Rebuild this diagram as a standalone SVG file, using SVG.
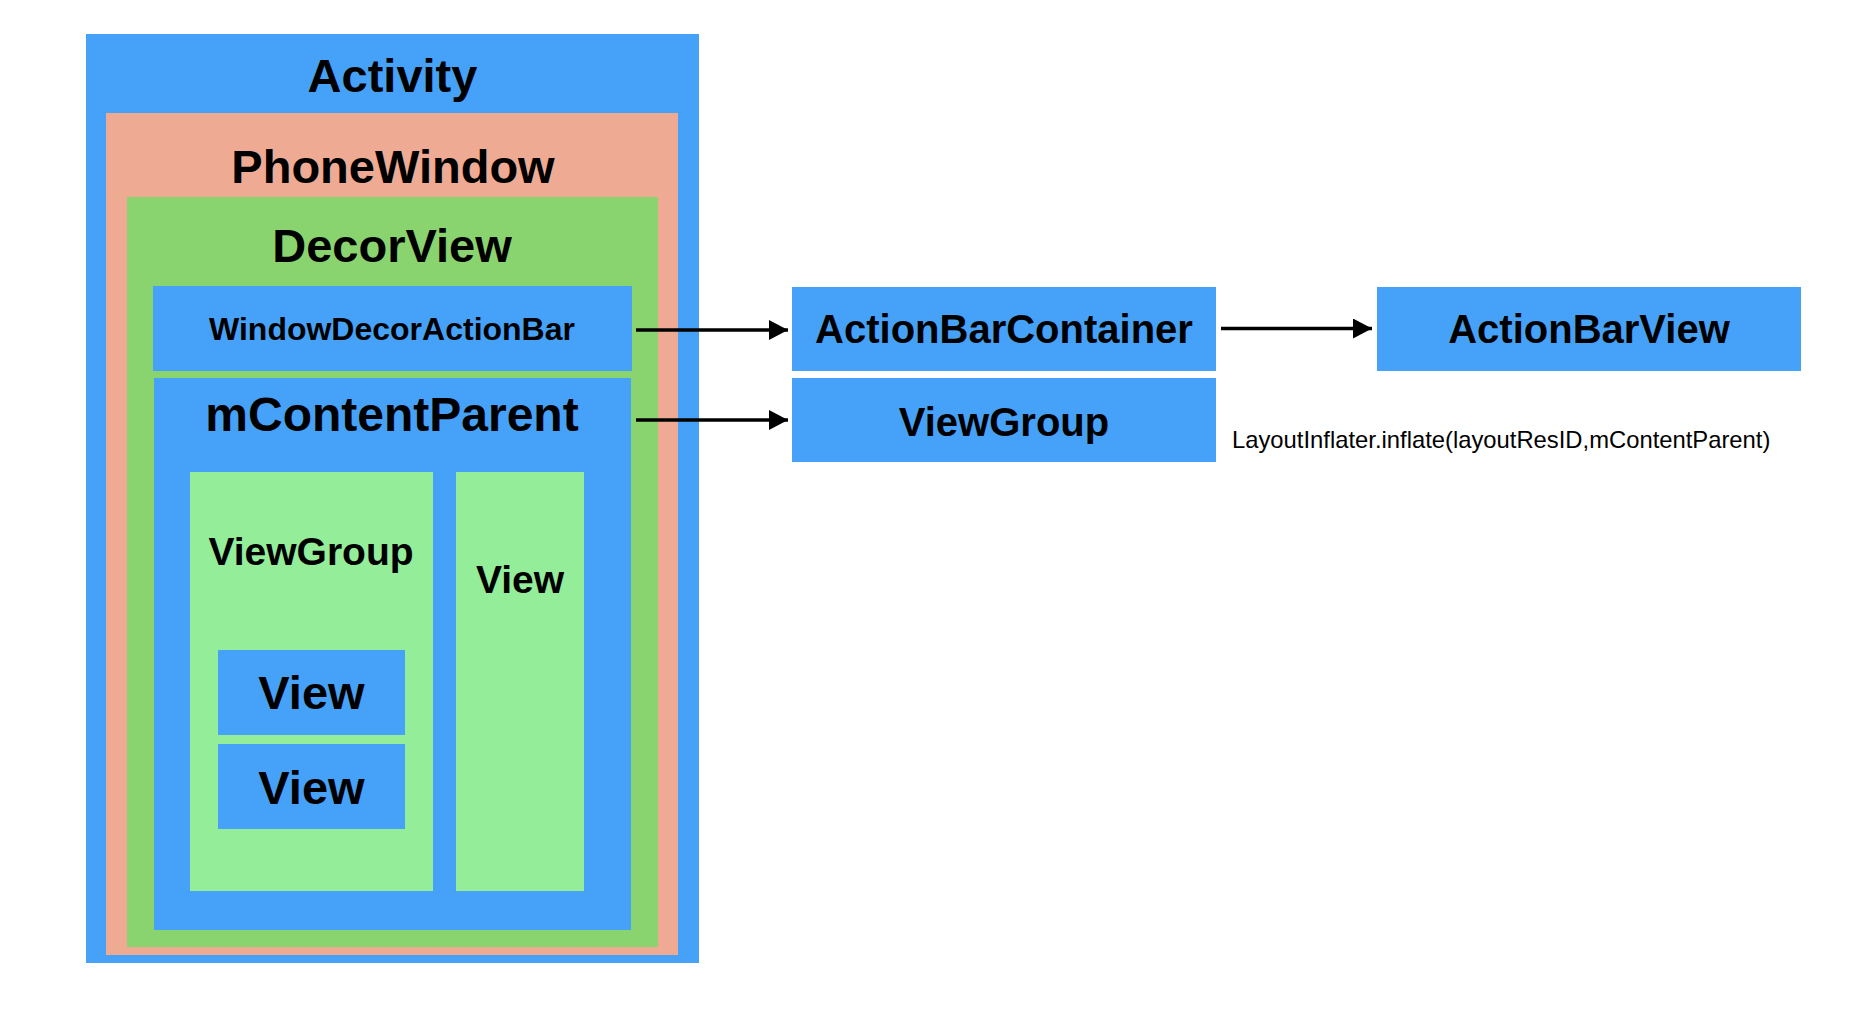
<svg xmlns="http://www.w3.org/2000/svg" width="1874" height="1020" viewBox="0 0 1874 1020">
<style>
.blue{fill:#46A2F8}
.salmon{fill:#EFAA94}
.green{fill:#8AD46F}
.lgreen{fill:#94EE99}
text{font-family:"Liberation Sans",Arial,Helvetica,sans-serif;fill:#000}
.b{font-weight:bold;text-anchor:middle}
.conn{stroke:#000;stroke-width:3.5;fill:none}
</style>
<defs>
<marker id="ah" markerUnits="userSpaceOnUse" markerWidth="20" markerHeight="20" refX="19" refY="10" orient="auto">
<path d="M0,0 L19,10 L0,20 Z" fill="#000"/>
</marker>
</defs>
<rect width="1874" height="1020" fill="#fff"/>
<g id="activity">
<rect class="blue" x="86" y="34" width="613" height="929"/>
<text class="b" x="392.5" y="92" font-size="47">Activity</text>
</g>
<g id="phonewindow">
<rect class="salmon" x="106" y="113" width="572" height="842"/>
<text class="b" x="393" y="183" font-size="47">PhoneWindow</text>
</g>
<g id="decorview">
<rect class="green" x="127" y="197" width="531" height="750"/>
<text class="b" x="392" y="262" font-size="47">DecorView</text>
</g>
<g id="windowdecoractionbar">
<rect class="blue" x="153" y="286" width="479" height="85"/>
<text class="b" x="392" y="340" font-size="32">WindowDecorActionBar</text>
</g>
<g id="mcontentparent">
<rect class="blue" x="154" y="378" width="477" height="552"/>
<text class="b" x="392" y="431" font-size="48">mContentParent</text>
</g>
<g id="inner-viewgroup">
<rect class="lgreen" x="190" y="472" width="243" height="419"/>
<text class="b" x="311" y="565" font-size="39">ViewGroup</text>
</g>
<g id="inner-view-column">
<rect class="lgreen" x="456" y="472" width="128" height="419"/>
<text class="b" x="520" y="593" font-size="39">View</text>
</g>
<g id="view1">
<rect class="blue" x="218" y="650" width="187" height="85"/>
<text class="b" x="311.5" y="709" font-size="47">View</text>
</g>
<g id="view2">
<rect class="blue" x="218" y="744" width="187" height="85"/>
<text class="b" x="311.5" y="804" font-size="47">View</text>
</g>
<g id="actionbarcontainer">
<rect class="blue" x="792" y="287" width="424" height="84"/>
<text class="b" x="1004" y="343" font-size="40">ActionBarContainer</text>
</g>
<g id="viewgroup-right">
<rect class="blue" x="792" y="378" width="424" height="84"/>
<text class="b" x="1004" y="436" font-size="40">ViewGroup</text>
</g>
<g id="actionbarview">
<rect class="blue" x="1377" y="287" width="424" height="84"/>
<text class="b" x="1589" y="343" font-size="40">ActionBarView</text>
</g>
<g id="label-inflate">
<text x="1232" y="448" font-size="23.8">LayoutInflater.inflate(layoutResID,mContentParent)</text>
</g>
<g id="connectors">
<line class="conn" x1="636" y1="330" x2="788" y2="330" marker-end="url(#ah)"/>
<line class="conn" x1="636" y1="420" x2="788" y2="420" marker-end="url(#ah)"/>
<line class="conn" x1="1221" y1="328.5" x2="1372" y2="328.5" marker-end="url(#ah)"/>
</g>
</svg>
